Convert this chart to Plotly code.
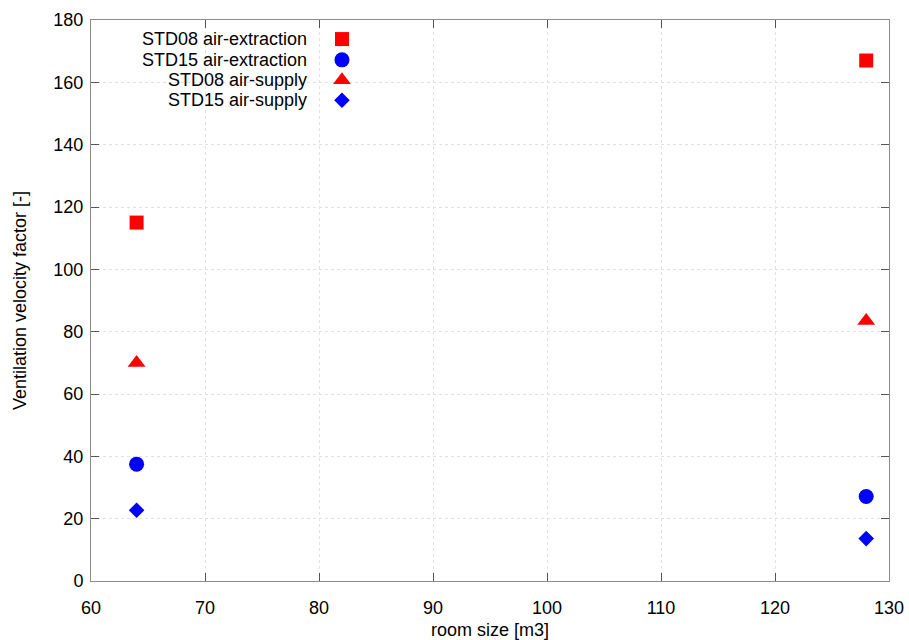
import plotly.graph_objects as go

room_size = [64, 128]
std08_extraction = [115, 167]
std15_extraction = [37.5, 27.1]
std08_supply = [70, 83.5]
std15_supply = [22.7, 13.6]

series_names = ["STD08 air-extraction", "STD15 air-extraction", "STD08 air-supply", "STD15 air-supply"]
series_values = [std08_extraction, std15_extraction, std08_supply, std15_supply]
series_colors = ["#ff0000", "#0000ff", "#ff0000", "#0000ff"]
series_symbols = ["square", "circle", "triangle-up", "diamond"]
series_sizes = [14, 15, 15.5, 12]

FONT = "Liberation Sans, Arial, sans-serif"
FS = 18
fig = go.Figure()

for name, vals, col, sym, sz in zip(series_names, series_values, series_colors, series_symbols, series_sizes):
    fig.add_trace(go.Scatter(x=room_size, y=vals, mode="markers", name=name, showlegend=False,
                             marker=dict(symbol=sym, size=sz, color=col, line=dict(width=0))))

# custom legend (text right-aligned, symbol on the right) on an overlay axis in [0,1]
leg_y = [0.966, 0.929, 0.893, 0.857]
leg_x_sym = 0.3145
leg_x_txt = 0.2735
for i, (name, col, sym, sz) in enumerate(zip(series_names, series_colors, series_symbols, series_sizes)):
    fig.add_trace(go.Scatter(x=[leg_x_sym], y=[leg_y[i]], mode="markers", showlegend=False,
                             xaxis="x2", yaxis="y2", hoverinfo="skip",
                             marker=dict(symbol=sym, size=sz, color=col, line=dict(width=0))))
    fig.add_annotation(x=leg_x_txt, y=leg_y[i], xref="paper", yref="paper", text=name,
                       showarrow=False, xanchor="right", yanchor="middle",
                       font=dict(family=FONT, size=FS, color="#000"))

axis_common = dict(showline=True, linecolor="#8c8c8c", linewidth=1, mirror="ticks",
                   ticks="inside", ticklen=8, tickcolor="#555555", tickwidth=1,
                   showgrid=True, gridcolor="#e2e2e2", griddash="dot", gridwidth=1,
                   zeroline=False, automargin=False,
                   tickfont=dict(family=FONT, size=FS, color="#000"))

fig.update_layout(
    width=909, height=640,
    margin=dict(l=91, r=20, t=20, b=59),
    paper_bgcolor="white", plot_bgcolor="white",
    font=dict(family=FONT, size=FS, color="#000"),
    xaxis=dict(range=[60, 130], dtick=10, tick0=60, ticklabelstandoff=10,
               title=dict(text="room size [m3]", standoff=12, font=dict(family=FONT, size=FS)),
               **axis_common),
    yaxis=dict(range=[0, 180], dtick=20, tick0=0, ticklabelstandoff=3,
               title=dict(text="Ventilation velocity factor [-]", standoff=22, font=dict(family=FONT, size=FS)),
               **axis_common),
    xaxis2=dict(overlaying="x", range=[0, 1], visible=False, fixedrange=True),
    yaxis2=dict(overlaying="y", range=[0, 1], visible=False, fixedrange=True),
)

fig.write_html("out.html")
